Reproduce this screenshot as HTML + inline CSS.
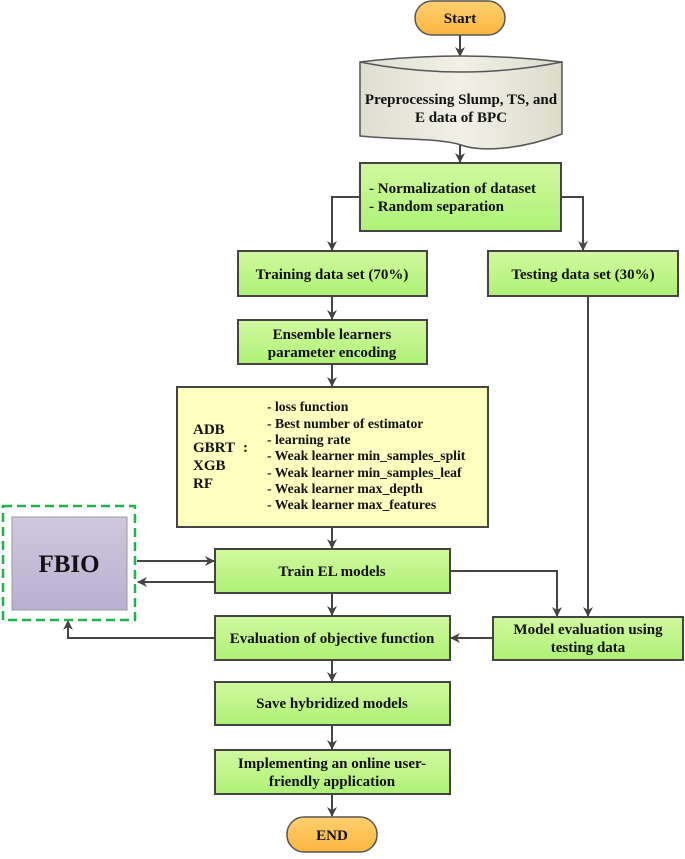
<!DOCTYPE html>
<html><head><meta charset="utf-8"><style>
body{margin:0;background:#fff}
svg text{font-family:"Liberation Serif",serif;font-weight:bold;fill:#111}
</style></head><body>
<svg width="685" height="854" viewBox="0 0 685 854" xmlns="http://www.w3.org/2000/svg">
<defs>
<linearGradient id="g" x1="0" y1="0" x2="0" y2="1"><stop offset="0" stop-color="#d2f8a0"/><stop offset="1" stop-color="#aef275"/></linearGradient>
<linearGradient id="o" x1="0" y1="0" x2="0" y2="1"><stop offset="0" stop-color="#ffd070"/><stop offset="1" stop-color="#fbb640"/></linearGradient>
<linearGradient id="p" x1="0" y1="0" x2="0" y2="1"><stop offset="0" stop-color="#d0c8e0"/><stop offset="1" stop-color="#b8b0d0"/></linearGradient>
<linearGradient id="c" x1="0" y1="0" x2="1" y2="0"><stop offset="0" stop-color="#deded0"/><stop offset="0.5" stop-color="#f0f0e6"/><stop offset="1" stop-color="#dcdccc"/></linearGradient>
<marker id="a" markerWidth="10" markerHeight="10" refX="9" refY="5" orient="auto" markerUnits="userSpaceOnUse"><path d="M0,0 L10,5 L0,10 L3,5 Z" fill="#444"/></marker>
</defs>
<g stroke="#444" stroke-width="2" fill="none">
<line x1="460" y1="35" x2="460" y2="56" marker-end="url(#a)"/>
<line x1="460" y1="144" x2="460" y2="162" marker-end="url(#a)"/>
<polyline points="360,197 332,197 332,250" marker-end="url(#a)"/>
<polyline points="561,197 583,197 583,250" marker-end="url(#a)"/>
<line x1="332" y1="296" x2="332" y2="319" marker-end="url(#a)"/>
<line x1="332" y1="364" x2="332" y2="386" marker-end="url(#a)"/>
<line x1="332" y1="527" x2="332" y2="548" marker-end="url(#a)"/>
<line x1="332" y1="593" x2="332" y2="615" marker-end="url(#a)"/>
<line x1="332" y1="660" x2="332" y2="681" marker-end="url(#a)"/>
<line x1="332" y1="725" x2="332" y2="749" marker-end="url(#a)"/>
<line x1="332" y1="794" x2="332" y2="816" marker-end="url(#a)"/>
<line x1="588" y1="296" x2="588" y2="616" marker-end="url(#a)"/>
<polyline points="450,571 557,571 557,616" marker-end="url(#a)"/>
<line x1="493" y1="638" x2="451" y2="638" marker-end="url(#a)"/>
<polyline points="215,638 68,638 68,621" marker-end="url(#a)"/>
<line x1="137" y1="561" x2="214" y2="561" marker-end="url(#a)"/>
<line x1="215" y1="582" x2="138" y2="582" marker-end="url(#a)"/>
</g>
<rect x="415" y="1" width="90" height="34" rx="17" fill="url(#o)" stroke="#555" stroke-width="1.5"/>
<text x="460" y="23" font-size="15" text-anchor="middle">Start</text>
<path d="M360,62 Q461,50 562,62 L562,134 C520,150 480,152 461,145 C440,138 400,140 360,136 Z" fill="url(#c)" stroke="#555" stroke-width="1.5"/>
<path d="M360,62 Q461,82 562,62" fill="none" stroke="#555" stroke-width="1.5"/>
<text x="461" y="104" font-size="15" text-anchor="middle">Preprocessing Slump, TS, and</text>
<text x="461" y="122" font-size="15" text-anchor="middle">E data of BPC</text>
<g stroke="#444" stroke-width="2" fill="url(#g)">
<rect x="360" y="163" width="201" height="68"/>
<rect x="238" y="251" width="189" height="45"/>
<rect x="488" y="251" width="190" height="45"/>
<rect x="238" y="320" width="189" height="44"/>
<rect x="215" y="549" width="235" height="44"/>
<rect x="215" y="616" width="235" height="44"/>
<rect x="493" y="617" width="190" height="43"/>
<rect x="215" y="682" width="235" height="43"/>
<rect x="215" y="750" width="235" height="44"/>
</g>
<rect x="177" y="387" width="311" height="140" fill="#ffffc0" stroke="#444" stroke-width="2"/>
<rect x="3" y="506" width="132" height="114" fill="none" stroke="#22b24c" stroke-width="2.5" stroke-dasharray="9,5"/>
<rect x="12" y="517" width="115" height="93" fill="url(#p)" stroke="#999" stroke-width="1"/>
<text x="69" y="572" font-size="25" text-anchor="middle">FBIO</text>
<text x="369" y="193" font-size="15">- Normalization of dataset</text>
<text x="369" y="211" font-size="15">- Random separation</text>
<text x="332" y="279" font-size="15" text-anchor="middle">Training data set (70%)</text>
<text x="583" y="279" font-size="15" text-anchor="middle">Testing data set (30%)</text>
<text x="332" y="339" font-size="15" text-anchor="middle">Ensemble learners</text>
<text x="332" y="357" font-size="15" text-anchor="middle">parameter encoding</text>
<g font-size="13.7">
<text x="193" y="434" font-size="15">ADB</text><text x="193" y="452" font-size="15">GBRT</text><text x="243" y="452" font-size="15">:</text>
<text x="193" y="470" font-size="15">XGB</text><text x="193" y="488" font-size="15">RF</text>
<text x="267" y="411">- loss function</text>
<text x="267" y="428">- Best number of estimator</text>
<text x="267" y="444">- learning rate</text>
<text x="267" y="460">- Weak learner min_samples_split</text>
<text x="267" y="477">- Weak learner min_samples_leaf</text>
<text x="267" y="493">- Weak learner max_depth</text>
<text x="267" y="509">- Weak learner max_features</text>
</g>
<text x="332" y="576" font-size="15" text-anchor="middle">Train EL models</text>
<text x="332" y="643" font-size="15" text-anchor="middle">Evaluation of objective function</text>
<text x="588" y="634" font-size="15" text-anchor="middle">Model evaluation using</text>
<text x="588" y="652" font-size="15" text-anchor="middle">testing data</text>
<text x="332" y="708" font-size="15" text-anchor="middle">Save hybridized models</text>
<text x="332" y="768" font-size="15" text-anchor="middle">Implementing an online user-</text>
<text x="332" y="786" font-size="15" text-anchor="middle">friendly application</text>
<rect x="287" y="817" width="90" height="35" rx="17" fill="url(#o)" stroke="#555" stroke-width="1.5"/>
<text x="332" y="840" font-size="15" text-anchor="middle">END</text>
</svg>
</body></html>
